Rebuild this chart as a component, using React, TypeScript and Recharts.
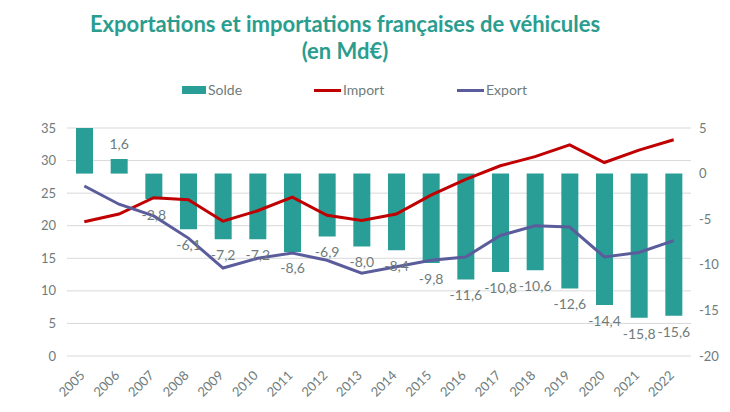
import React from 'react';
import { ComposedChart, Bar, Line, XAxis, YAxis, CartesianGrid, LabelList } from 'recharts';

const years = ['2005', '2006', '2007', '2008', '2009', '2010', '2011', '2012', '2013', '2014', '2015', '2016', '2017', '2018', '2019', '2020', '2021', '2022'];
const solde = [5.5, 1.6, -2.8, -6.1, -7.2, -7.2, -8.6, -6.9, -8.0, -8.4, -9.8, -11.6, -10.8, -10.6, -12.6, -14.4, -15.8, -15.6];
const importValues = [20.6, 21.8, 24.3, 24.0, 20.7, 22.3, 24.4, 21.6, 20.8, 21.8, 24.7, 27.1, 29.2, 30.6, 32.4, 29.7, 31.6, 33.2];
const exportValues = [26.1, 23.3, 21.5, 18.1, 13.5, 15.0, 15.8, 14.7, 12.7, 13.7, 14.7, 15.2, 18.5, 20.0, 19.8, 15.2, 15.9, 17.7];
const leftTicks = [0, 5, 10, 15, 20, 25, 30, 35];
const rightTicks = [-20, -15, -10, -5, 0, 5];

const LEFT_MAX = 35;
const RIGHT_MIN = -20;
const RIGHT_MAX = 5;

const data = years.map((year, i) => ({
  year,
  solde: solde[i],
  import: importValues[i],
  export: exportValues[i],
}));

const TEAL = '#299E96';
const RED = '#C00000';
const BLUE = '#5B5C9C';
const GRAY = '#6E7C7C';
const FONT = 'Lato, "Open Sans", sans-serif';

const fmt = (v: number) => v.toFixed(1).replace('.', ',');

const BarLabel = (props: any) => {
  const { x, y, width, height, value } = props;
  if (value == null || value > RIGHT_MAX) return null;
  const top = Math.min(y, y + height);
  const bottom = Math.max(y, y + height);
  const cy = value >= 0 ? top - 15 : bottom + 16;
  return (
    <text x={x + width / 2} y={cy} dy="0.35em" textAnchor="middle" fill={GRAY} fontSize={14} fontFamily={FONT}>
      {fmt(value)}
    </text>
  );
};

const XTick = (props: any) => {
  const { x, y, payload } = props;
  return (
    <g transform={`translate(${x - 2},${y + 9})`}>
      <text transform="rotate(-45)" textAnchor="end" dy="0.35em" fill={GRAY} fontSize={13} fontFamily={FONT}>
        {payload.value}
      </text>
    </g>
  );
};

export default function App() {
  return (
    <div style={{ position: 'absolute', left: 0, top: 0, width: 730, height: 412, background: '#fff', fontFamily: FONT }}>
      <div
        style={{
          position: 'absolute',
          left: 0,
          top: 10,
          width: 690,
          textAlign: 'center',
          color: '#2A9D8F',
          fontWeight: 700,
          fontSize: 22,
          lineHeight: '27px',
        }}
      >
        Exportations et importations françaises de véhicules
        <br />
        (en Md€)
      </div>
      <div style={{ position: 'absolute', left: 0, top: 80, width: 730, height: 20, fontSize: 14, color: GRAY }}>
        <div style={{ position: 'absolute', left: 182, top: 6, width: 24, height: 8, background: TEAL }} />
        <div style={{ position: 'absolute', left: 208, top: 0, lineHeight: '20px' }}>Solde</div>
        <div style={{ position: 'absolute', left: 314, top: 9, width: 27, height: 3, background: RED }} />
        <div style={{ position: 'absolute', left: 343, top: 0, lineHeight: '20px' }}>Import</div>
        <div style={{ position: 'absolute', left: 457, top: 9, width: 27, height: 3, background: BLUE }} />
        <div style={{ position: 'absolute', left: 486, top: 0, lineHeight: '20px' }}>Export</div>
      </div>
      <div style={{ position: 'absolute', left: 0, top: 0 }}>
        <ComposedChart width={730} height={412} data={data} margin={{ top: 128, right: 0, bottom: 0, left: 0 }}>
          <CartesianGrid yAxisId="left" vertical={false} stroke="#D9D9D9" strokeWidth={1} />
          <XAxis dataKey="year" axisLine={false} tickLine={false} height={56} interval={0} tick={<XTick />} />
          <YAxis
            yAxisId="left"
            orientation="left"
            width={67}
            domain={[0, LEFT_MAX]}
            ticks={leftTicks}
            interval={0}
            axisLine={false}
            tickLine={false}
            tickMargin={5}
            tick={{ fill: GRAY, fontSize: 13, fontFamily: FONT }}
          />
          <YAxis
            yAxisId="right"
            orientation="right"
            width={39}
            domain={[RIGHT_MIN, RIGHT_MAX]}
            ticks={rightTicks}
            interval={0}
            allowDataOverflow
            axisLine={false}
            tickLine={false}
            tick={{ fill: GRAY, fontSize: 13, fontFamily: FONT, textAnchor: 'start' }}
          />
          <Bar yAxisId="right" dataKey="solde" fill={TEAL} barSize={17} isAnimationActive={false}>
            <LabelList dataKey="solde" content={<BarLabel />} />
          </Bar>
          <Line yAxisId="left" type="linear" dataKey="import" stroke={RED} strokeWidth={3} dot={false} isAnimationActive={false} />
          <Line yAxisId="left" type="linear" dataKey="export" stroke={BLUE} strokeWidth={3} dot={false} isAnimationActive={false} />
        </ComposedChart>
      </div>
    </div>
  );
}
